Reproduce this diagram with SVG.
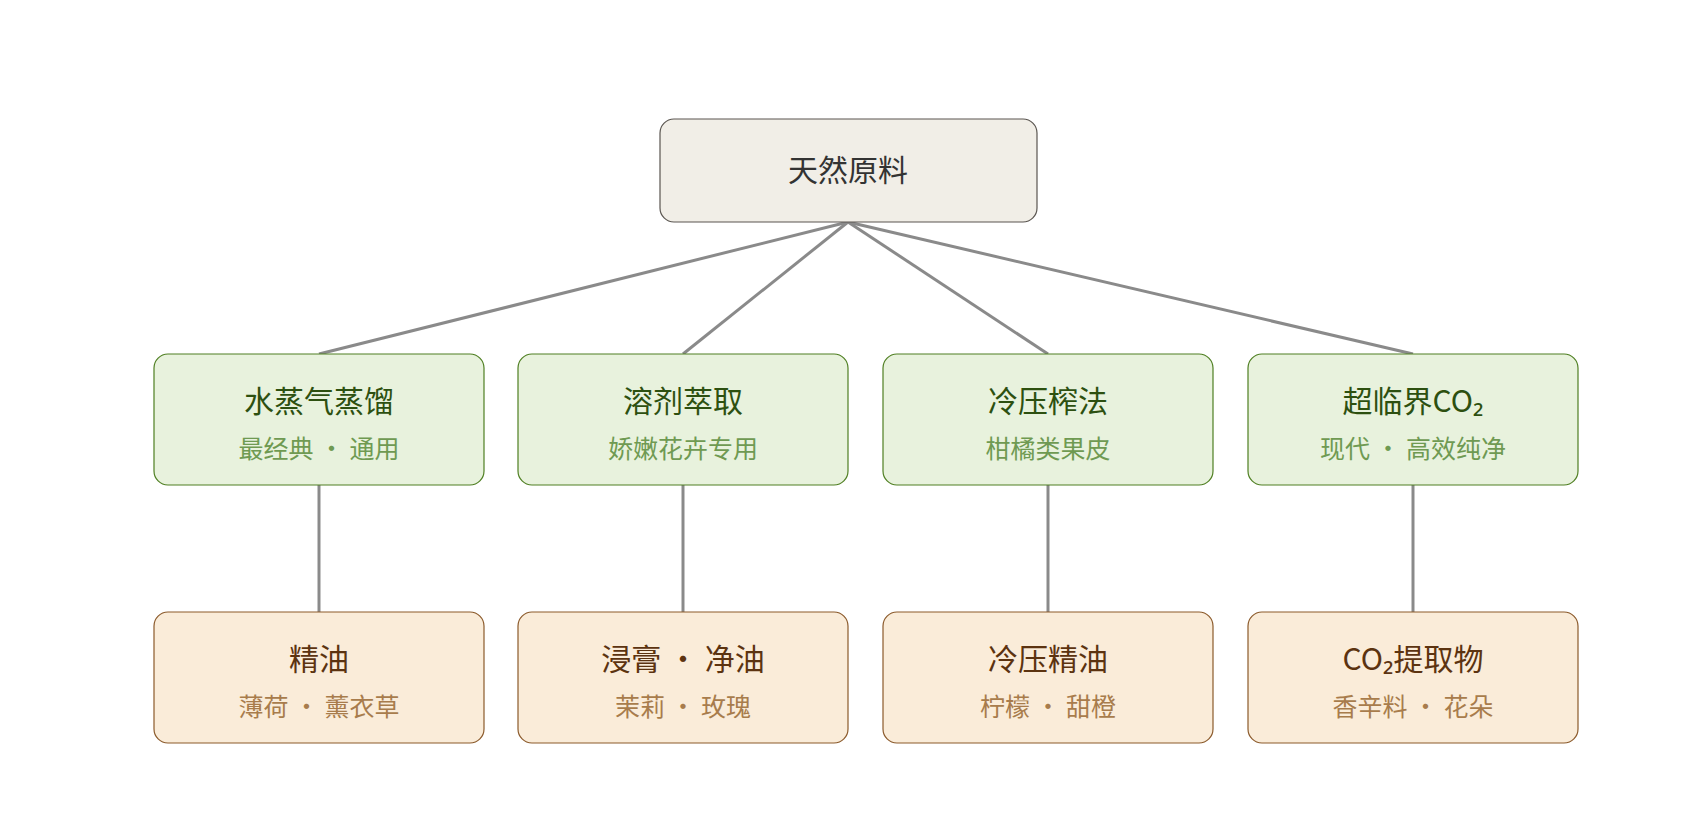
<svg xmlns="http://www.w3.org/2000/svg" width="1696" height="816" viewBox="0 0 1696 816">
<style>
text{font-family:"Noto Sans CJK SC","Noto Sans",sans-serif;text-anchor:middle}
.root rect{fill:#f1eee7;stroke:#5a5550;stroke-width:1.2}
.root text{fill:#333;font-size:30px}
.g rect{fill:#e8f2dd;stroke:#4f7f22;stroke-width:1.2}
.g .t{fill:#2d5010;font-size:30px}
.g .s{fill:#6f9a52;font-size:25px}
.o rect{fill:#faecd9;stroke:#8b5a2b;stroke-width:1.2}
.o .t{fill:#5c3310;font-size:30px}
.o .s{fill:#a87c4c;font-size:25px}
#edges line{stroke:#8a8a8a;stroke-width:3}
</style>
<rect width="1696" height="816" fill="#fff"/>
<g id="edges">
<line x1="848" y1="222" x2="319" y2="354"/>
<line x1="848" y1="222" x2="683" y2="354"/>
<line x1="848" y1="222" x2="1048" y2="354"/>
<line x1="848" y1="222" x2="1413" y2="354"/>
<line x1="319" y1="485" x2="319" y2="612"/>
<line x1="683" y1="485" x2="683" y2="612"/>
<line x1="1048" y1="485" x2="1048" y2="612"/>
<line x1="1413" y1="485" x2="1413" y2="612"/>
</g>
<g id="root" class="root"><rect x="660" y="119" width="377" height="103" rx="14"/><text x="848" y="181">天然原料</text></g>
<g id="m1" class="g"><rect x="154" y="354" width="330" height="131" rx="14"/><text class="t" x="319" y="412">水蒸气蒸馏</text><text class="s" x="319" y="458">最经典 · 通用</text></g>
<g id="m2" class="g"><rect x="518" y="354" width="330" height="131" rx="14"/><text class="t" x="683" y="412">溶剂萃取</text><text class="s" x="683" y="458">娇嫩花卉专用</text></g>
<g id="m3" class="g"><rect x="883" y="354" width="330" height="131" rx="14"/><text class="t" x="1048" y="412">冷压榨法</text><text class="s" x="1048" y="458">柑橘类果皮</text></g>
<g id="m4" class="g"><rect x="1248" y="354" width="330" height="131" rx="14"/><text class="t" x="1413" y="412">超临界CO₂</text><text class="s" x="1413" y="458">现代 · 高效纯净</text></g>
<g id="b1" class="o"><rect x="154" y="612" width="330" height="131" rx="14"/><text class="t" x="319" y="670">精油</text><text class="s" x="319" y="716">薄荷 · 薰衣草</text></g>
<g id="b2" class="o"><rect x="518" y="612" width="330" height="131" rx="14"/><text class="t" x="683" y="670">浸膏 · 净油</text><text class="s" x="683" y="716">茉莉 · 玫瑰</text></g>
<g id="b3" class="o"><rect x="883" y="612" width="330" height="131" rx="14"/><text class="t" x="1048" y="670">冷压精油</text><text class="s" x="1048" y="716">柠檬 · 甜橙</text></g>
<g id="b4" class="o"><rect x="1248" y="612" width="330" height="131" rx="14"/><text class="t" x="1413" y="670">CO₂提取物</text><text class="s" x="1413" y="716">香辛料 · 花朵</text></g>
</svg>
